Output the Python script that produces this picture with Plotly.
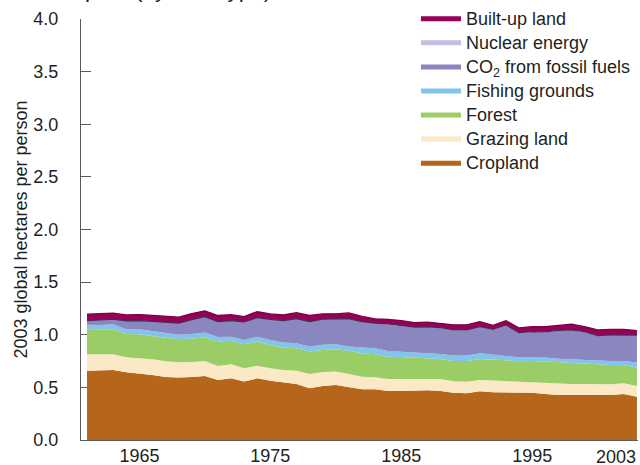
import plotly.graph_objects as go

years = list(range(1961, 2004))

cropland = [0.659, 0.665, 0.665, 0.643, 0.634, 0.618, 0.599, 0.593, 0.599, 0.608,
            0.570, 0.586, 0.555, 0.586, 0.564, 0.545, 0.532, 0.491, 0.513, 0.523,
            0.501, 0.482, 0.482, 0.466, 0.466, 0.472, 0.472, 0.466, 0.450, 0.444,
            0.463, 0.453, 0.453, 0.450, 0.450, 0.437, 0.428, 0.428, 0.428, 0.428,
            0.428, 0.437, 0.412]
grazing = [0.155, 0.149, 0.149, 0.143, 0.146, 0.149, 0.149, 0.146, 0.143, 0.143,
           0.133, 0.133, 0.127, 0.120, 0.117, 0.120, 0.127, 0.136, 0.133, 0.127,
           0.127, 0.120, 0.114, 0.114, 0.114, 0.108, 0.108, 0.114, 0.108, 0.110,
           0.107, 0.111, 0.108, 0.104, 0.101, 0.102, 0.104, 0.104, 0.104, 0.104,
           0.101, 0.102, 0.101]
forest = [0.232, 0.238, 0.238, 0.222, 0.225, 0.222, 0.225, 0.219, 0.222, 0.222,
          0.232, 0.225, 0.228, 0.228, 0.222, 0.213, 0.212, 0.213, 0.210, 0.212,
          0.219, 0.222, 0.218, 0.212, 0.209, 0.203, 0.199, 0.190, 0.193, 0.197,
          0.200, 0.196, 0.196, 0.194, 0.200, 0.207, 0.206, 0.203, 0.194, 0.187,
          0.184, 0.174, 0.175]
fishing = [0.048, 0.041, 0.048, 0.044, 0.048, 0.044, 0.041, 0.041, 0.044, 0.048,
           0.044, 0.038, 0.041, 0.048, 0.048, 0.048, 0.048, 0.048, 0.048, 0.048,
           0.041, 0.058, 0.058, 0.054, 0.051, 0.051, 0.044, 0.048, 0.051, 0.051,
           0.054, 0.048, 0.041, 0.038, 0.035, 0.038, 0.035, 0.032, 0.035, 0.035,
           0.038, 0.038, 0.048]
co2 = [0.041, 0.048, 0.048, 0.079, 0.082, 0.095, 0.105, 0.111, 0.136, 0.152,
       0.147, 0.152, 0.171, 0.181, 0.196, 0.209, 0.234, 0.238, 0.244, 0.238,
       0.265, 0.244, 0.238, 0.253, 0.240, 0.234, 0.249, 0.246, 0.240, 0.240,
       0.249, 0.240, 0.291, 0.230, 0.240, 0.240, 0.265, 0.275, 0.265, 0.234,
       0.243, 0.243, 0.256]
nuclear = [0.0] * 23 + [0.004] * 20
builtup = [0.060, 0.057, 0.057, 0.057, 0.057, 0.057, 0.057, 0.057, 0.057, 0.054,
           0.057, 0.057, 0.051, 0.057, 0.051, 0.054, 0.057, 0.057, 0.051, 0.051,
           0.054, 0.048, 0.041, 0.044, 0.051, 0.044, 0.044, 0.041, 0.048, 0.048,
           0.048, 0.038, 0.041, 0.044, 0.048, 0.048, 0.048, 0.054, 0.048, 0.054,
           0.054, 0.054, 0.044]

x_ticks = [1965, 1975, 1985, 1995]
x_ticktext = ["1965", "1975", "1985", "1995"]
last_label = "2003"
y_ticks = [0, 0.5, 1.0, 1.5, 2.0, 2.5, 3.0, 3.5, 4.0]

series = [
    ("Cropland", cropland, "#b5661a", None),
    ("Grazing land", grazing, "#fbe8c7", None),
    ("Forest", forest, "#9bcd67", None),
    ("Fishing grounds", fishing, "#82c4ea", None),
    ("CO<sub>2</sub> from fossil fuels", co2, "#8a86c0", None),
    ("Nuclear energy", nuclear, "#c4bee0", "#4a2c50"),
    ("Built-up land", builtup, "#960059", "#7e004a"),
]

FONT = "Liberation Sans, Arial, Helvetica, sans-serif"
TXT = "#231f20"

fig = go.Figure()
for name, vals, col, lcol in series:
    fig.add_trace(go.Scatter(
        x=years, y=vals, stackgroup="one", mode="lines",
        line=dict(width=1.3 if lcol else 0, color=lcol or col),
        fillcolor=col, name=name, showlegend=False, hoverinfo="x+y+name",
    ))

# legend entries (top to bottom as in the reference)
for name, vals, col, lcol in reversed(series):
    fig.add_trace(go.Scatter(
        x=[None], y=[None], mode="lines", line=dict(color=col, width=5),
        name=f'<span style="font-size:18px">{name}</span>', showlegend=True,
    ))

fig.update_layout(
    width=640, height=465,
    margin=dict(l=81, r=2, t=19, b=25, autoexpand=False),
    paper_bgcolor="white", plot_bgcolor="white",
    font=dict(family=FONT, size=18, color=TXT),
    legend=dict(x=0.6014, y=1.041, xanchor="left", yanchor="top",
                bgcolor="rgba(0,0,0,0)", font=dict(size=16.2, color=TXT),
                traceorder="normal", itemwidth=40),
    xaxis=dict(range=[1960.54, 2003.08], showgrid=False, zeroline=False,
               showline=True, linecolor="#5a5a5a", linewidth=1.3,
               tickvals=x_ticks, ticktext=x_ticktext, ticks="",
               ticklabelstandoff=-1,
               tickfont=dict(size=18, color=TXT)),
    yaxis=dict(range=[0, 4], showgrid=False, zeroline=False,
               showline=True, linecolor="#5a5a5a", linewidth=1.3,
               tickvals=y_ticks, ticktext=[f"{v:.1f}" for v in y_ticks],
               ticks="inside", ticklen=10, tickcolor="#5a5a5a", tickwidth=1.2,
               layer="below traces", ticklabelstandoff=18,
               tickfont=dict(size=18, color=TXT),
               title=dict(text="2003 global hectares per person",
                          font=dict(size=18, color=TXT), standoff=0)),
    annotations=[
        dict(text=last_label, xref="x", x=2003.08, xanchor="right",
             yref="paper", y=0, yanchor="top", yshift=-5, showarrow=False,
             font=dict(size=18, color=TXT)),
        dict(text="Footprint (by land type)", xref="paper", x=-0.0772,
             xanchor="left", yref="paper", y=1, yanchor="bottom", yshift=15,
             showarrow=False, font=dict(size=22.5, color=TXT)),
    ],
)

fig.write_html("out.html", config={"displayModeBar": False},
               post_script="document.body.style.margin='0';document.body.style.overflow='hidden';")
